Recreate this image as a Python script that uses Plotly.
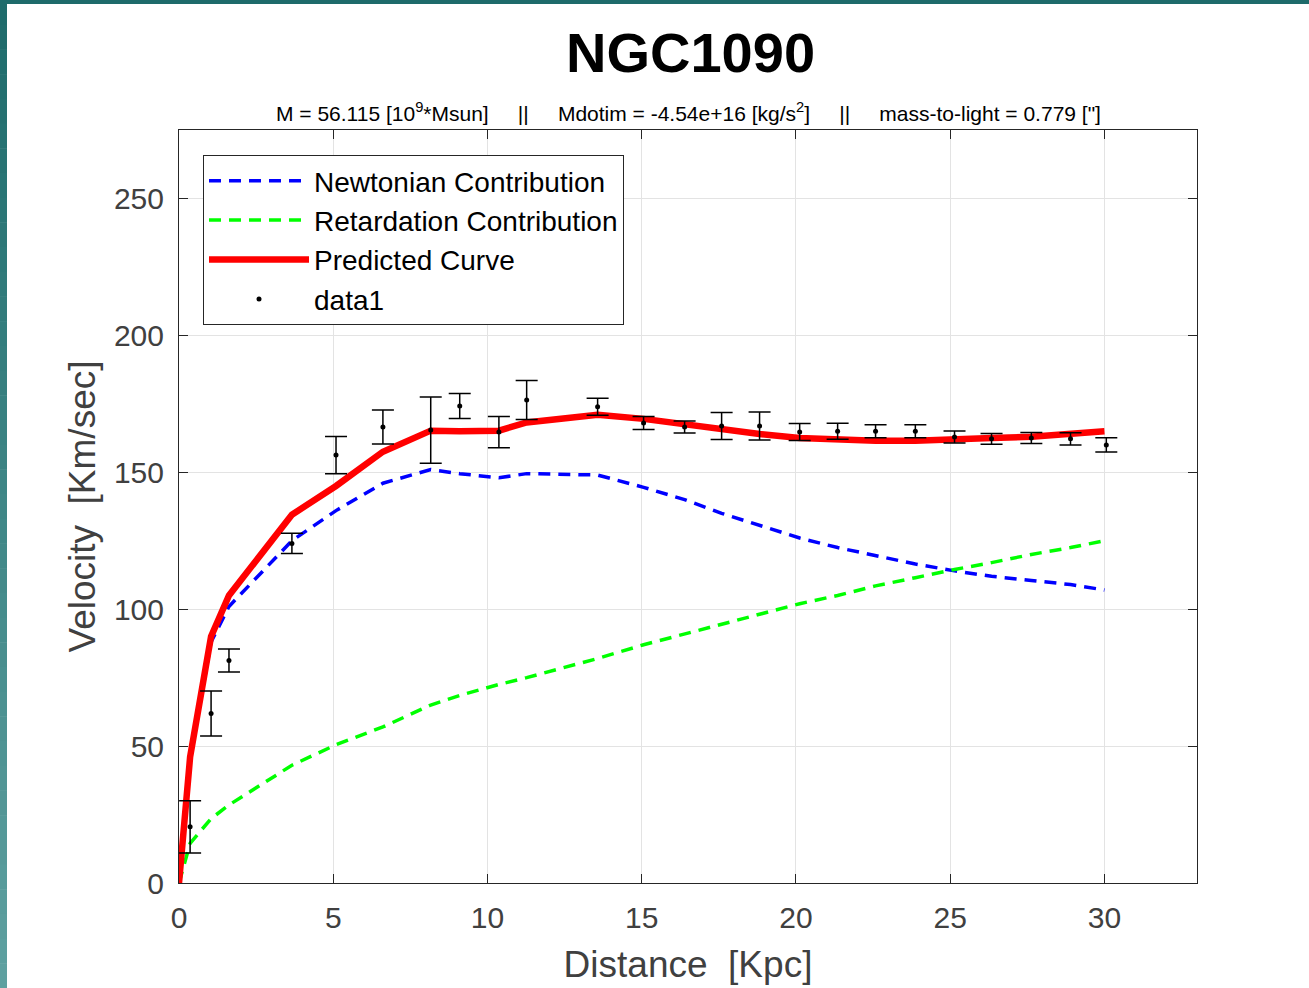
import plotly.graph_objects as go

# ---- data ----
r_data = [0.36, 1.04, 1.62, 3.66, 5.09, 6.61, 8.16, 9.10, 10.37, 11.27, 13.57, 15.06,
          16.39, 17.59, 18.82, 20.12, 21.35, 22.58, 23.87, 25.14, 26.34, 27.63, 28.90, 30.06]
v_data = [20.5, 61.9, 81.3, 124.0, 156.3, 166.5, 165.4, 174.2, 164.7, 176.4, 173.9, 168.0,
          166.5, 166.9, 166.9, 164.7, 165.0, 165.0, 165.0, 162.9, 162.2, 162.5, 162.2, 160.0]
v_err = [9.5, 8.2, 4.2, 3.7, 6.8, 6.2, 12.1, 4.6, 5.7, 7.1, 3.1, 2.4,
         2.2, 4.9, 5.1, 3.1, 2.9, 2.4, 2.4, 2.2, 2.0, 2.0, 2.2, 2.6]

r_model = [0.0, 0.36, 1.04, 1.62, 3.66, 5.09, 6.61, 8.16, 9.10, 10.37, 11.27, 13.57, 15.06,
           16.39, 17.59, 18.82, 20.12, 21.35, 22.58, 23.87, 25.14, 26.34, 27.63, 28.90, 30.0]
v_newton = [0.0, 45.0, 88.0, 101.0, 125.0, 136.0, 146.0, 151.0, 149.5, 148.0, 149.5, 149.0, 144.5,
            140.0, 135.0, 130.5, 126.0, 122.5, 119.5, 116.5, 114.0, 112.0, 110.5, 109.0, 107.0]
v_retard = [0.0, 14.5, 23.5, 28.5, 43.0, 50.5, 57.0, 65.0, 68.5, 72.5, 75.0, 82.0, 87.0,
            91.0, 94.5, 98.0, 102.0, 105.0, 108.5, 111.5, 114.5, 117.0, 120.0, 122.5, 125.0]
v_pred = [0.0, 46.0, 90.0, 105.0, 134.5, 145.0, 157.5, 165.2, 165.0, 165.2, 168.2, 171.0, 169.5,
          167.5, 165.5, 164.0, 162.5, 161.8, 161.5, 161.5, 161.8, 162.5, 163.0, 164.0, 165.0]

x_ticks = [0, 5, 10, 15, 20, 25, 30]
y_ticks = [0, 50, 100, 150, 200, 250]

title_text = "NGC1090"
SP = "\u00a0" * 5
subtitle_text = ("M = 56.115 [10<sup>9</sup>*Msun]" + SP + "||" + SP +
                 "Mdotim = -4.54e+16 [kg/s<sup>2</sup>]" + SP + "||" + SP +
                 "mass-to-light = 0.779 [\"]")

FONT = "Liberation Sans, Arial, Helvetica, sans-serif"
AX = "#262626"

fig = go.Figure()
fig.add_trace(go.Scatter(x=r_model, y=v_newton, mode="lines", name="Newtonian Contribution",
                         legendgroup="a",
                         line=dict(color="#0000ff", width=3.5, dash="12px,8px")))
fig.add_trace(go.Scatter(x=r_model, y=v_retard, mode="lines", name="Retardation Contribution",
                         legendgroup="b",
                         line=dict(color="#00ff00", width=3.5, dash="12px,8px")))
fig.add_trace(go.Scatter(x=r_model, y=v_pred, mode="lines", name="Predicted Curve",
                         legendgroup="c",
                         line=dict(color="#ff0000", width=6.5)))
fig.add_trace(go.Scatter(x=r_data, y=v_data, mode="markers", name="data1",
                         legendgroup="d",
                         marker=dict(color="black", size=5),
                         error_y=dict(type="data", array=v_err, visible=True,
                                      color="black", thickness=1.5, width=11)))

# teal page border (gradient strip on the left, band on top)
L, R, T, B = 179, 112, 130, 105
W, H = 1309, 988
pw, ph = W - L - R, H - T - B
shapes = []
n = 40
c0, c1 = (30, 107, 107), (94, 160, 160)
for i in range(n):
    f = i / (n - 1)
    col = "rgb(%d,%d,%d)" % tuple(int(round(a + (b - a) * f)) for a, b in zip(c0, c1))
    ytop = i * H / n
    ybot = (i + 1) * H / n + 0.5
    shapes.append(dict(type="rect", xref="paper", yref="paper", layer="above",
                       x0=(0 - L) / pw, x1=(7 - L) / pw,
                       y0=(H - B - ybot) / ph, y1=(H - B - ytop) / ph,
                       line=dict(width=0), fillcolor=col))
shapes.append(dict(type="rect", xref="paper", yref="paper", layer="above",
                   x0=(0 - L) / pw, x1=(W - L) / pw,
                   y0=(H - B - 4) / ph, y1=(H - B + 1) / ph,
                   line=dict(width=0), fillcolor="rgb(30,107,107)"))

fig.update_layout(
    width=W, height=H,
    margin=dict(l=L, r=R, t=T, b=B, autoexpand=False),
    paper_bgcolor="white", plot_bgcolor="white",
    font=dict(family=FONT, color=AX),
    showlegend=True,
    legend=dict(x=(203 - L) / pw, y=(H - B - 155) / ph, xanchor="left", yanchor="top",
                bgcolor="white", bordercolor=AX, borderwidth=1,
                font=dict(size=28, family=FONT, color="#000000"),
                itemwidth=100, tracegroupgap=0),
    shapes=shapes,
    annotations=[
        dict(text="<b>" + title_text + "</b>", xref="paper", yref="paper",
             x=(690 - L) / pw, y=(H - B - 52) / ph, xanchor="center", yanchor="middle",
             showarrow=False, font=dict(size=56, color="black", family=FONT)),
        dict(text=subtitle_text, xref="paper", yref="paper",
             x=(688 - L) / pw, y=(H - B - 112) / ph, xanchor="center", yanchor="middle",
             showarrow=False, font=dict(size=21, color="black", family=FONT)),
    ],
)
fig.update_xaxes(range=[0, 33], tickvals=x_ticks, ticks="inside", ticklen=9, tickcolor=AX,
                 showline=True, linecolor=AX, linewidth=1, mirror="ticks",
                 showgrid=True, gridcolor="#e3e3e3", gridwidth=1, zeroline=False,
                 automargin=False, ticklabelstandoff=8,
                 tickfont=dict(size=30, color="#404040"),
                 title=dict(text="Distance\u00a0\u00a0[Kpc]", font=dict(size=37, color="#404040"),
                            standoff=18))
fig.update_yaxes(range=[0, 275], tickvals=y_ticks, ticks="inside", ticklen=9, tickcolor=AX,
                 showline=True, linecolor=AX, linewidth=1, mirror="ticks",
                 showgrid=True, gridcolor="#e3e3e3", gridwidth=1, zeroline=False,
                 automargin=False, ticklabelstandoff=8,
                 tickfont=dict(size=30, color="#404040"),
                 title=dict(text="Velocity\u00a0\u00a0[Km/sec]", font=dict(size=37, color="#404040"),
                            standoff=6))

fig.write_html("out.html")
